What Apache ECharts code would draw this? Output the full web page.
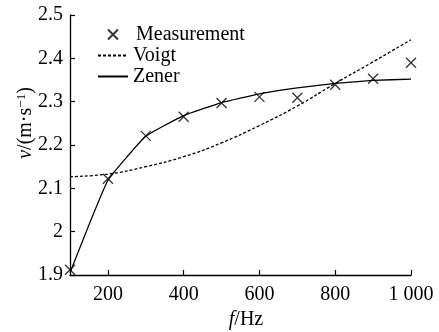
<!DOCTYPE html>
<html>
<head>
<meta charset="utf-8">
<script src="https://cdn.jsdelivr.net/npm/echarts@6/dist/echarts.min.js"></script>
<style>
  html, body { margin: 0; padding: 0; background: #fff; }
  #main { width: 439px; height: 332px; }
</style>
</head>
<body>
<div id="main"></div>
<script>
// 频率 Hz
var freq = [100, 200, 300, 400, 500, 600, 700, 800, 900, 1000];
// 实测
var measured = [1.912, 2.122, 2.221, 2.265, 2.297, 2.311, 2.309, 2.339, 2.353, 2.390];
// Voigt 模型
var voigt = [2.127, 2.133, 2.150, 2.173, 2.205, 2.245, 2.290, 2.342, 2.392, 2.443];
// Zener 模型
var zener = [1.905, 2.118, 2.220, 2.268, 2.298, 2.318, 2.332, 2.342, 2.349, 2.352];
var yTicks = [1.9, 2.0, 2.1, 2.2, 2.3, 2.4, 2.5];

function pairs(ys) {
    var out = [];
    for (var i = 0; i < freq.length; i++) {
        out.push([freq[i], ys[i]]);
    }
    return out;
}

var font = 'Liberation Serif, Times New Roman, serif';
var noDot = { color: 'transparent', borderColor: 'transparent', borderWidth: 0 };
var chart = echarts.init(document.getElementById('main'));

var option = {
    animation: false,
    backgroundColor: '#fff',
    grid: { left: 70, right: 28, top: 15, bottom: 57, outerBoundsMode: 'none', containLabel: false },
    legend: {
        orient: 'vertical',
        left: 92,
        top: 19,
        itemWidth: 30,
        itemHeight: 10,
        itemGap: 0,
        textStyle: { fontFamily: font, fontSize: 20, color: '#000', lineHeight: 21 },
        data: [
            { name: 'Measurement', textStyle: { padding: [0, 0, 0, 3] } },
            { name: 'Voigt', itemStyle: noDot },
            { name: 'Zener', itemStyle: noDot }
        ]
    },
    xAxis: {
        type: 'value',
        min: 100,
        max: 1000,
        splitNumber: 5,
        name: '{i|f}/Hz',
        nameLocation: 'middle',
        nameGap: 35,
        nameTextStyle: {
            fontFamily: font, fontSize: 20, color: '#000', padding: [0, 0, 0, 11],
            rich: { i: { fontFamily: font, fontSize: 20, fontStyle: 'italic', color: '#000' } }
        },
        axisLine: { lineStyle: { color: '#000', width: 1.3 } },
        axisTick: { inside: true, length: 5, lineStyle: { color: '#000', width: 1.2 } },
        splitLine: { show: false },
        axisLabel: {
            showMinLabel: false,
            margin: 10,
            fontFamily: font, fontSize: 20, color: '#000',
            formatter: function (v) { return v === 1000 ? '1 000' : String(v); }
        }
    },
    yAxis: {
        type: 'value',
        min: yTicks[0],
        max: yTicks[yTicks.length - 1],
        interval: 0.1,
        name: '{i|v}/(m·s{sup|−1})',
        nameLocation: 'middle',
        nameGap: 34,
        nameMoveOverlap: false,
        nameRotate: 90,
        nameTextStyle: {
            fontFamily: font, fontSize: 20, color: '#000', padding: [0, 0, 0, 44],
            rich: {
                i: { fontFamily: font, fontSize: 20, fontStyle: 'italic', color: '#000' },
                sup: { fontFamily: font, fontSize: 13, color: '#000', verticalAlign: 'top', padding: [0, 0, 8, 0] }
            }
        },
        axisLine: { show: true, lineStyle: { color: '#000', width: 1.3 } },
        axisTick: { show: true, inside: true, length: 5, lineStyle: { color: '#000', width: 1.2 } },
        splitLine: { show: false },
        axisLabel: {
            margin: 7,
            fontFamily: font, fontSize: 20, color: '#000',
            formatter: function (v) { return String(Math.round(v * 10) / 10); }
        }
    },
    series: [
        {
            name: 'Voigt',
            type: 'line',
            smooth: true,
            symbol: 'none',
            data: pairs(voigt),
            lineStyle: { color: '#000', width: 1.3, type: [3, 2] },
            itemStyle: { color: '#000' }
        },
        {
            name: 'Zener',
            type: 'line',
            smooth: 0.12,
            symbol: 'none',
            data: pairs(zener),
            lineStyle: { color: '#000', width: 1.3 },
            itemStyle: { color: '#000' }
        },
        {
            name: 'Measurement',
            type: 'scatter',
            symbol: 'path://M0,0L10,10M10,0L0,10',
            symbolSize: 10,
            symbolKeepAspect: true,
            data: pairs(measured),
            itemStyle: { color: 'transparent', borderColor: '#000', borderWidth: 1.3 },
            z: 5
        }
    ]
};

chart.setOption(option);
</script>
</body>
</html>
